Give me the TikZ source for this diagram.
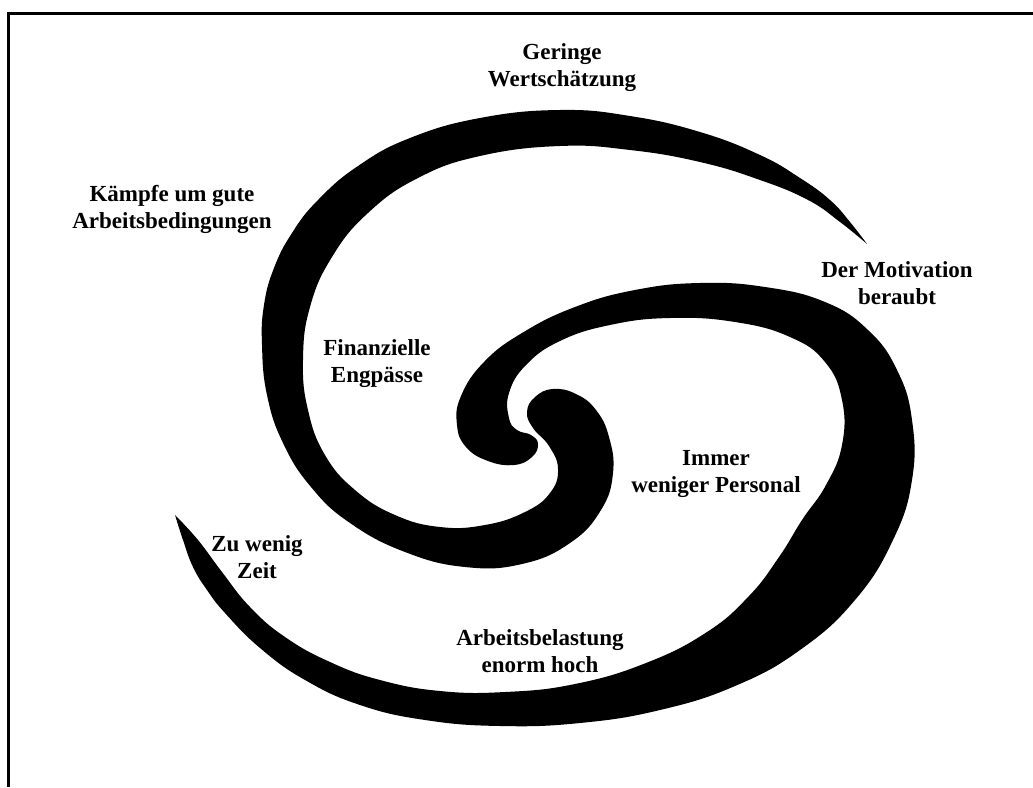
\documentclass[tikz,border=0pt]{standalone}
\usepackage{fontspec}
\setmainfont{Liberation Serif}
\begin{document}
\begin{tikzpicture}[x=1pt,y=-1pt,
  lbl/.style={font=\fontsize{23}{27}\selectfont\bfseries, align=center, inner sep=0pt},
  band/.style={fill=black, smooth, tension=0.75},
  frame/.style={line width=3.5pt}]
\useasboundingbox (0,0) rectangle (1033,787);
% open frame: left and top edges
\draw[frame] (8.5,787) -- (8.5,13.5) -- (1033,13.5);

% upper arm: sharp tip at the top right, round knob in the middle
\fill[band] plot coordinates {
  (867,244) (850,222) (830,200) (800,178) (760,155) (700,132) (630,116) (560,110)
  (480,118) (410,138) (358,166) (318,200) (292,233) (274,268) (264,305) (262,345)
  (267,395) (283,443) (311,487) (350,523) (405,552) (465,567) (522,564) (570,543)
  (601,510) (613,473) (609,437) (596,410) (576,394) (553,389) (535,397) (527,412)
  (533,428) (549,446) (558,469) (550,493) (525,512) (485,525) (440,527) (395,515)
  (355,490) (325,455) (308,410) (303,360) (310,307) (332,257) (368,213) (418,178)
  (480,156) (560,146) (630,150) (700,162) (760,180) (808,200) (840,222) (867,244)};

% lower arm: sharp tip at the bottom left, round knob in the middle
\fill[band] plot coordinates {
  (175,515) (183,540) (193,567) (207,590) (225,613) (260,648) (305,680) (360,705)
  (425,720) (500,726) (580,723) (660,710) (735,686) (800,650) (855,600) (893,540)
  (912,480) (912,420) (897,370) (868,330) (825,302) (765,287) (700,283) (635,290)
  (575,307) (522,333) (484,362) (461,396) (457,425) (466,447) (488,461) (514,465)
  (532,457) (538,444) (531,435) (517,430) (509,418) (509,393) (526,365) (560,341)
  (610,325) (670,318) (735,322) (790,337) (825,362) (842,400) (842,445) (826,485)
  (802,520) (779,557) (749,596) (707,632) (646,663) (575,684) (505,692) (440,691)
  (380,680) (330,662) (285,637) (250,607) (222,572) (198,540) (175,515)};

\node[lbl] (geringe)   at (562,68)  {Geringe\\Wertschätzung};
\node[lbl] (kaempfe)   at (172,209) {Kämpfe um gute\\Arbeitsbedingungen};
\node[lbl] (motiv)     at (897,283) {Der Motivation\\beraubt};
\node[lbl] (finanz)    at (377,364) {Finanzielle\\Engpässe};
\node[lbl] (personal)  at (716,474) {Immer\\weniger Personal};
\node[lbl] (zeit)      at (257,557) {Zu wenig\\Zeit};
\node[lbl] (belastung) at (540,651) {Arbeitsbelastung\\enorm hoch};
\end{tikzpicture}
\end{document}
